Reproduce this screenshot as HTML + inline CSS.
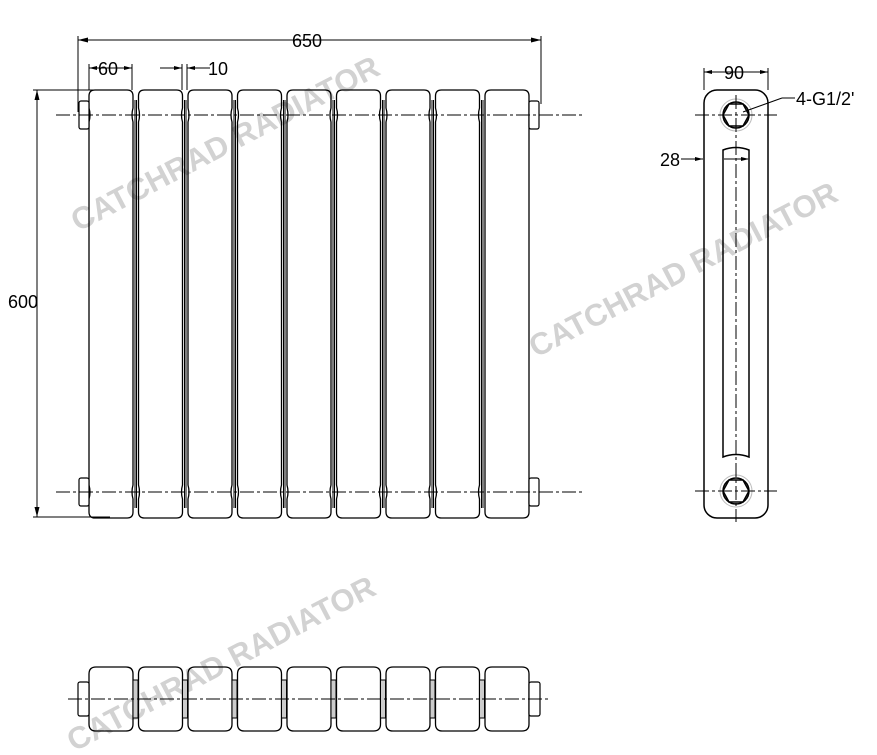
<!DOCTYPE html>
<html><head><meta charset="utf-8"><style>
body{margin:0;background:#fff}
svg{display:block}
text{font-family:"Liberation Sans",sans-serif;fill:#000}
text.wm{fill:#d2d2d2;font-weight:bold;font-size:31px}
</style></head><body>
<svg width="877" height="755" viewBox="0 0 877 755" xmlns="http://www.w3.org/2000/svg">
<defs>
<g id="col">
 <path d="M0,96 Q0,90 6,90 L38,90 Q44,90 44,96 L44,108 Q42,115 44,122 L44,485 Q42,492 44,499 L44,512 Q44,518 38,518 L6,518 Q0,518 0,512 L0,499 Q2,492 0,485 L0,122 Q2,115 0,108 Z" fill="none" stroke="#000" stroke-width="1.3"/>
 <line x1="46" y1="100" x2="46" y2="508" stroke="#000" stroke-width="1"/>
 <line x1="47.5" y1="100" x2="47.5" y2="508" stroke="#000" stroke-width="1"/>
</g>
<g id="tcol">
 <path d="M0,674 Q0,667 7,667 L37,667 Q44,667 44,674 L44,724 Q44,731 37,731 L7,731 Q0,731 0,724 Z" fill="none" stroke="#000" stroke-width="1.3"/>
 <rect x="44" y="680" width="5" height="38" fill="#ccc" stroke="#000" stroke-width="1"/>
</g>
</defs>
<!-- watermarks (behind) -->
<text class="wm" transform="translate(78,232) rotate(-27.5)">CATCHRAD RADIATOR</text>
<text class="wm" transform="translate(536,358) rotate(-27.5)">CATCHRAD RADIATOR</text>
<text class="wm" transform="translate(74,752) rotate(-27.5)">CATCHRAD RADIATOR</text>
<g>
<use href="#col" x="89"/><use href="#col" x="138.5"/><use href="#col" x="188"/><use href="#col" x="237.5"/><use href="#col" x="287"/><use href="#col" x="336.5"/><use href="#col" x="386"/><use href="#col" x="435.5"/>
<path d="M485,96 Q485,90 491,90 L523,90 Q529,90 529,96 L529,512 Q529,518 523,518 L491,518 Q485,518 485,512 Z" fill="none" stroke="#000" stroke-width="1.3"/>
</g>
<g fill="#fff" stroke="#000" stroke-width="1.2">
<rect x="79" y="101" width="10" height="28" rx="2"/><rect x="79" y="478" width="10" height="28" rx="2"/>
<rect x="529" y="101" width="10" height="28" rx="2"/><rect x="529" y="478" width="10" height="28" rx="2"/>
</g>
<g stroke="#000" stroke-width="1" stroke-dasharray="14,3,3,3">
<line x1="56" y1="115" x2="582" y2="115"/><line x1="56" y1="492" x2="582" y2="492"/>
</g>
<g stroke="#000" stroke-width="1" fill="none">
<line x1="78" y1="40" x2="541" y2="40"/><line x1="78" y1="36" x2="78" y2="112"/><line x1="541" y1="36" x2="541" y2="104"/>
<line x1="89" y1="68" x2="132" y2="68"/><line x1="89" y1="64" x2="89" y2="90"/><line x1="132" y1="64" x2="132" y2="90"/>
<line x1="160" y1="68" x2="182" y2="68"/><line x1="187" y1="68" x2="210" y2="68"/><line x1="182" y1="64" x2="182" y2="90"/><line x1="187" y1="64" x2="187" y2="90"/>
<line x1="33" y1="90" x2="110" y2="90"/><line x1="33" y1="517" x2="110" y2="517"/><line x1="37" y1="90" x2="37" y2="517"/>
</g>
<g fill="#000">
<path d="M78,40 l10,-2.5 v5z"/><path d="M541,40 l-10,-2.5 v5z"/>
<path d="M89,68 l8,-2 v4z"/><path d="M132,68 l-8,-2 v4z"/>
<path d="M182,68 l-8,-2 v4z"/><path d="M187,68 l8,-2 v4z"/>
<path d="M37,90 l-2.5,10 h5z"/><path d="M37,517 l-2.5,-10 h5z"/>
</g>
<text x="292" y="47" font-size="18">650</text>
<text x="98" y="75" font-size="18">60</text>
<text x="208" y="75" font-size="18">10</text>
<text x="8" y="308" font-size="18">600</text>
<g stroke="#000" fill="none" stroke-width="1.5">
<rect x="704" y="90" width="64" height="428" rx="13"/>
<path d="M723,150 Q736,145 749,150 L749,457 Q736,452 723,457 Z"/>
<circle cx="736" cy="115" r="16" stroke="#bbb" stroke-width="1"/><circle cx="736" cy="115" r="13"/>
<path d="M729,104 h14 l6,11 -6,11 h-14 l-6,-11z"/>
<circle cx="736" cy="491" r="16" stroke="#bbb" stroke-width="1"/><circle cx="736" cy="491" r="13"/>
<path d="M729,480 h14 l6,11 -6,11 h-14 l-6,-11z"/>
</g>
<g stroke="#000" stroke-width="1" stroke-dasharray="14,3,3,3">
<line x1="736" y1="95" x2="736" y2="522"/><line x1="695" y1="115" x2="777" y2="115"/><line x1="695" y1="491" x2="777" y2="491"/>
</g>
<g stroke="#000" stroke-width="1" fill="none">
<line x1="704" y1="72" x2="768" y2="72"/><line x1="704" y1="68" x2="704" y2="90"/><line x1="768" y1="68" x2="768" y2="90"/>
<line x1="743" y1="112" x2="782" y2="98"/><line x1="782" y1="98" x2="795" y2="98"/>
<line x1="681" y1="159" x2="703" y2="159"/><line x1="724" y1="159" x2="748" y2="159"/>
</g>
<g fill="#000"><path d="M704,72 l8,-2 v4z"/><path d="M768,72 l-8,-2 v4z"/><path d="M703,159 l-8,-2 v4z"/><path d="M749,159 l-8,-2 v4z"/></g>
<text x="724" y="79" font-size="18">90</text>
<text x="796" y="105" font-size="18">4-G1/2'</text>
<text x="660" y="166" font-size="18">28</text>
<use href="#tcol" x="89"/><use href="#tcol" x="138.5"/><use href="#tcol" x="188"/><use href="#tcol" x="237.5"/><use href="#tcol" x="287"/><use href="#tcol" x="336.5"/><use href="#tcol" x="386"/><use href="#tcol" x="435.5"/>
<path d="M485,674 Q485,667 492,667 L522,667 Q529,667 529,674 L529,724 Q529,731 522,731 L492,731 Q485,731 485,724 Z" fill="none" stroke="#000" stroke-width="1.3"/>
<g fill="#fff" stroke="#000" stroke-width="1.2"><rect x="78" y="682" width="11" height="34" rx="2"/><rect x="529" y="682" width="11" height="34" rx="2"/></g>
<line x1="68" y1="699" x2="550" y2="699" stroke="#000" stroke-width="1" stroke-dasharray="14,3,3,3"/>
</svg>
</body></html>
